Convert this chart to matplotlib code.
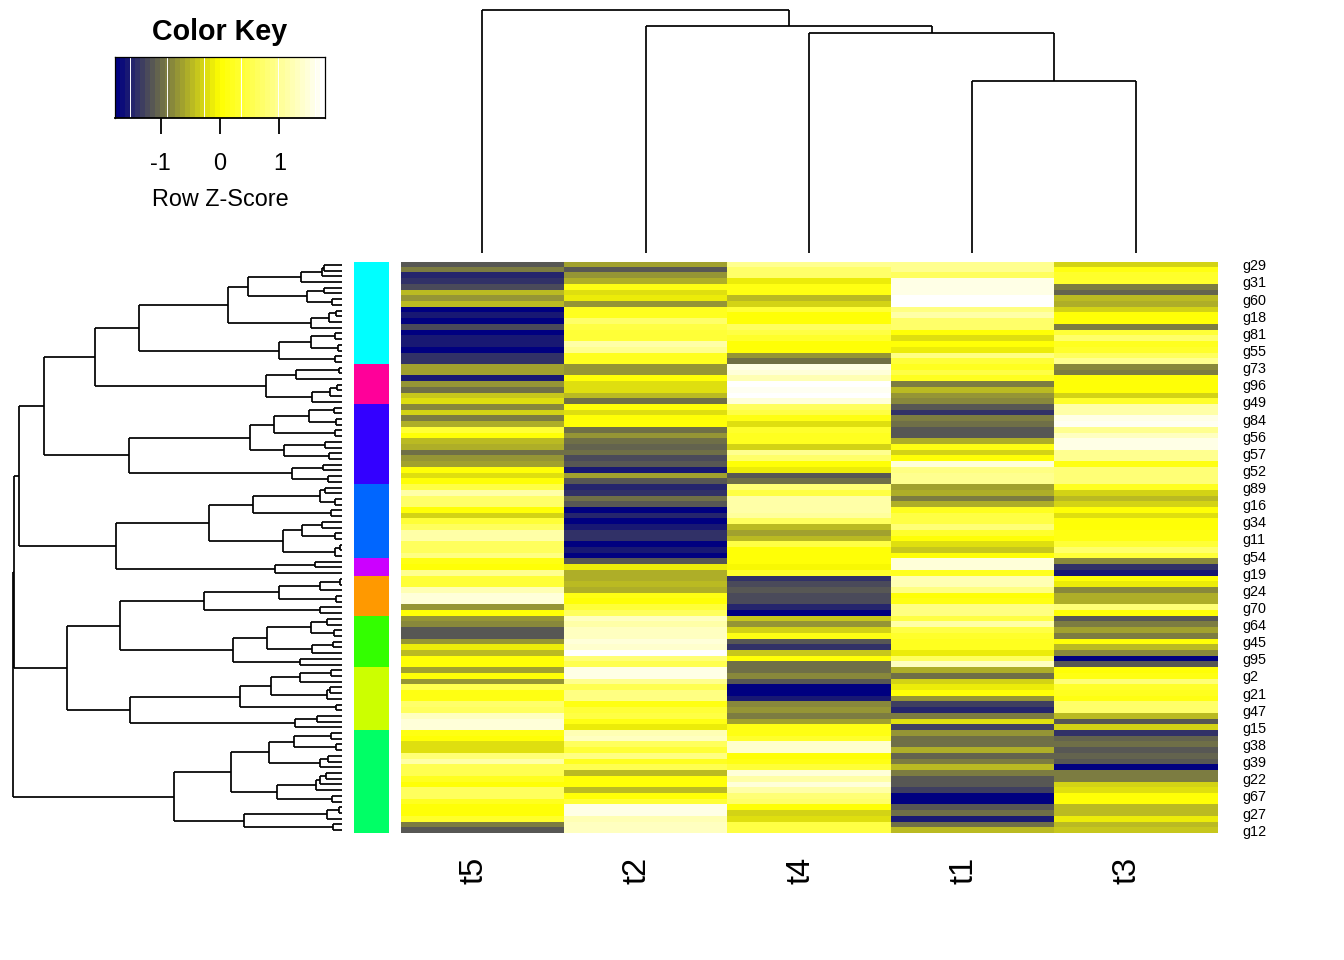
import numpy as np
import matplotlib
matplotlib.use("Agg")
import matplotlib.pyplot as plt
from matplotlib.colors import LinearSegmentedColormap, ListedColormap
from matplotlib.transforms import ScaledTranslation

plt.rcParams['font.family'] = ['Liberation Sans', 'DejaVu Sans']

columns = ["t5", "t2", "t4", "t1", "t3"]
shown_genes = ["g29","g31","g60","g18","g81","g55","g73","g96","g49","g84","g56","g57",
               "g52","g89","g16","g34","g11","g54","g19","g24","g70","g64","g45","g95",
               "g2","g21","g47","g15","g38","g39","g22","g67","g27","g12"]

t5 = [-1.1,-.85,-1.5,-1.35,-1.25,-.5,-.75,-.45,-1.7,-1.6,-1.7,-1.25,-1.77,-1.6,-1.6,-1.7,-1.4,-1.35,-.6,-.6,
      -1.6,-.75,-1.0,-.4,-.2,-.8,-.3,-.9,-.55,.4,0,-.45,-.55,-1.0,-.7,-.65,0,-.2,0,.5,
      1.1,.7,.7,0,-.3,.4,.6,1.1,1.1,.6,.6,.9,.15,.05,.95,.4,.4,1.2,1.45,1.45,
      -.7,0,-.75,-.8,-1.15,-1.15,-.7,-.15,-.5,0,0,-.6,0,-.7,.55,.15,.15,.7,.6,1.3,
      1.5,1.5,.15,0,-.2,-.2,.8,1.15,.55,.55,.2,0,.6,.6,.25,.05,.05,.3,-.85,-1.15]
t2 = [-.65,-1.15,-.7,-.55,.1,-.2,-.1,-.7,.2,.2,.7,.5,.35,.35,1.1,1.0,.2,.2,-.7,-.7,
      0,-.2,-.2,-.45,-.95,0,-.2,0,0,-.95,-.7,-1.0,-1.05,-1.0,-1.25,-1.15,-1.6,-.6,-1.1,-1.5,
      -1.35,-.95,-1.15,-1.7,-1.5,-1.77,-1.55,-1.4,-1.4,-1.7,-1.6,-1.7,-1.1,-.15,-.55,-.55,-.45,-.55,.1,0,
      .4,.6,1.3,1.1,1.3,1.3,1.5,1.4,1.77,.8,.55,1.6,1.6,.95,.55,.9,.9,.15,.35,.45,
      .1,-.1,1.2,1.3,.6,.4,.85,.2,.55,-.45,.05,0,-.45,.05,.4,1.6,1.6,1.2,1.3,1.3]
t4 = [1.0,.7,.7,-.1,.1,.1,-.5,-.3,.4,0,0,.6,.5,.3,0,0,-.7,-.95,1.6,1.5,
      1.2,1.77,1.65,1.75,1.5,.6,.5,.1,-.2,.3,.2,.2,-.3,1.0,.7,0,-.15,-1.15,-.95,.8,
      .5,1.15,1.15,1.1,1.05,.6,-.5,-.6,-.45,.5,0,0,0,-.05,.3,-1.4,-1.25,-1.1,-1.25,-1.25,
      -1.5,-1.7,-.4,-.7,-.3,.1,-1.15,-1.4,-.4,0,-.95,-.95,-.8,-1.15,-1.77,-1.7,-1.6,-.8,-.7,-.9,
      -.65,.1,.1,.3,1.4,1.4,.05,.1,.35,1.5,1.1,1.5,1.1,.8,.7,0,-.3,-.2,.5,.5]
t1 = [1.0,1.0,.6,1.55,1.55,1.6,1.77,1.77,.85,1.1,.7,.7,0,-.2,0,-.1,.9,.4,.2,.45,
      .2,-.85,-.45,-.75,-.8,-1.15,-1.4,-.85,-1.0,-1.15,-1.15,-.55,.1,-.3,0,1.5,.85,.95,.95,-.65,
      -.55,-.9,-.55,.25,.5,.5,.8,.3,0,-.2,-.4,.05,1.45,1.45,.2,1.2,1.2,.9,0,.15,
      .85,.85,.5,1.15,.5,.3,.2,.2,-.1,.65,1.3,-.55,-.95,-.3,-.1,0,-.7,-1.3,-1.5,-.9,
      -.2,-1.3,-.7,-1.0,-1.0,-.55,-1.05,-.9,-.45,-.9,-1.15,-1.15,-1.3,-1.77,-1.77,-1.15,-1.0,-1.55,-1.0,-.5]
t3 = [-.3,.15,.3,.3,-.85,-1.05,-.45,-.55,-.3,0,0,-.9,.4,.75,.2,.3,.6,.95,-.8,-.9,
      0,0,0,-.3,.3,1.15,1.15,1.6,1.65,1.0,1.3,1.55,1.55,.95,.95,.15,.8,.8,.8,.2,
      -.3,-.45,-.3,0,-.2,0,0,.1,.1,.4,.7,.4,-.8,-1.4,-1.6,0,-.15,-.8,-.55,-.55,
      .8,.05,-1.1,-.85,-.65,-.85,0,-.5,-.8,-1.77,-1.1,.05,.1,.8,.3,.2,.1,.7,.7,-.45,
      -1.1,-.3,-1.4,-1.05,-1.0,-1.15,-1.05,-1.1,-1.7,-.9,-.9,-.3,-.2,0,0,-.45,-.45,-.1,-.5,-.4]

group_sizes = [18, 7, 14, 13, 3, 7, 9, 11, 18]
group_colors = ["#00FFFF","#FF0099","#3300FF","#0066FF","#CC00FF","#FF9900","#33FF00","#CCFF00","#00FF66"]

# Row dendrogram: each node is (merge height, child, child); L is a leaf
L = None
def N(h, a=L, b=L):
    return (h, a, b)

upper = N(297.7,
    N(247.3,
        N(203.3,
            N(113.7,
                N(94.3,
                    N(41, N(20, N(17.7), L), L),
                    N(35, N(18.3), N(10))),
                N(31, N(12.7, N(5.7), L), L)),
            N(63, N(31, N(6.7), N(4.3)), N(6.7))),
        N(76,
            N(46, N(2.7), L),
            N(30, N(11.7, N(5), L), L))),
    N(213.3,
        N(91.7,
            N(67.7, N(33.3, N(8.3), N(5.7)), N(7.3)),
            N(57.7, N(17.3), N(12.7))),
        N(50, N(19.3), N(14))))
middle = N(225.7,
    N(132.7,
        N(89.3, N(21.7, N(16.7), N(7.3)), N(10.7)),
        N(59, N(40, N(20), N(6.7)), N(7.3, N(2.5), L))),
    N(67.3, N(26.7), L))
lower = N(275,
    N(222.3,
        N(137.7,
            N(62.7, N(21.7, N(2.5), L), N(6)),
            N(21.7)),
        N(109.3,
            N(75.3, N(30.7, N(15), N(8.3)), N(30, N(9), L)),
            N(42.3))),
    N(212.3,
        N(101.7,
            N(71, N(41.7, N(10.7), L), N(15, N(11.7), L)),
            N(6)),
        N(47.3, N(25), L)))
last = N(168,
    N(111,
        N(73, N(48.3, N(10.7), N(6)), N(22, N(14), L)),
        N(65, N(26, N(22.3, N(16), L), L), N(10))),
    N(98.3, N(15, N(3.3), L), N(9.3)))
row_tree = N(329, N(327.7, N(323.3, upper, middle), lower), last)

# Column dendrogram over t5, t2, t4, t1, t3
col_tree = N(243, L, N(227, L, N(220, L, N(172))))


def segments(node, cursor):
    """Return (position, height, segments) using leaf order from the tree."""
    if node is None:
        pos = cursor[0] + 0.5
        cursor[0] += 1
        return pos, 0.0, []
    h, a, b = node
    pa, ha, sa = segments(a, cursor)
    pb, hb, sb = segments(b, cursor)
    own = [((pa, ha), (pa, h)), ((pa, h), (pb, h)), ((pb, h), (pb, hb))]
    return (pa + pb) / 2, h, sa + sb + own


W, H = 1344, 960
fig = plt.figure(figsize=(W / 100, H / 100), dpi=100, facecolor="white")
def px_axes(x0, y0, x1, y1):
    return fig.add_axes([x0 / W, 1 - y1 / H, (x1 - x0) / W, (y1 - y0) / H])

n_bins = 42
zmax = 1.77
cmap = LinearSegmentedColormap.from_list("ny", ["#000080", "#FFFF00", "#FFFFFF"], N=n_bins)
data = np.array([t5, t2, t4, t1, t3]).T
n_rows = data.shape[0]

# Heatmap
ax = px_axes(401, 262, 1218, 833)
ax.imshow(data, cmap=cmap, vmin=-zmax, vmax=zmax, aspect="auto", interpolation="nearest",
          extent=(0, 5, n_rows, 0))
for s in ax.spines.values():
    s.set_visible(False)
ax.yaxis.tick_right()
ax.set_yticks(np.arange(0, n_rows, 3) + 0.5, shown_genes, fontsize=10.4)
ax.tick_params(axis="y", length=0, pad=17.5)
ax.set_xticks(np.arange(5) + 0.5, columns, rotation=90, fontsize=23.5)
ax.tick_params(axis="x", length=0, pad=17)
shift = ScaledTranslation(-9 / 100, 0, fig.dpi_scale_trans)
for lab in ax.get_xticklabels():
    lab.set_transform(lab.get_transform() + shift)

# Side colour bar
ax_side = px_axes(354, 262, 388, 833)
groups = np.repeat(np.arange(len(group_sizes)), group_sizes)[:, None]
ax_side.imshow(groups, cmap=ListedColormap(group_colors), aspect="auto", interpolation="nearest",
               vmin=-0.5, vmax=len(group_sizes) - 0.5, extent=(0, 1, n_rows, 0))
ax_side.axis("off")

# Row dendrogram
ax_r = px_axes(0, 262, 342, 833)
_, _, segs = segments(row_tree, [0])
for (p0, h0), (p1, h1) in segs:
    ax_r.plot([h0, h1], [p0, p1], color="black", lw=1.25, solid_capstyle="butt", clip_on=False)
ax_r.set_xlim(342, 0)
ax_r.set_ylim(n_rows, 0)
ax_r.axis("off")

# Column dendrogram
ax_c = px_axes(400.5, 0, 1217.5, 253)
_, _, segs = segments(col_tree, [0])
for (p0, h0), (p1, h1) in segs:
    ax_c.plot([p0, p1], [h0, h1], color="black", lw=1.25, solid_capstyle="butt", clip_on=False)
ax_c.set_xlim(0, 5)
ax_c.set_ylim(0, 253)
ax_c.axis("off")

# Colour key
ax_k = px_axes(115, 57, 325, 118)
grad = np.linspace(-zmax, zmax, n_bins)[None, :]
ax_k.imshow(grad, cmap=cmap, vmin=-zmax, vmax=zmax, aspect="auto", interpolation="nearest",
            extent=(-zmax, zmax, 0, 1))
for z in [-1.52, -0.89, -0.27, 0.355, 0.98, 1.606]:
    ax_k.axvline(z, color="white", lw=0.7)
ax_k.set_yticks([])
ax_k.set_xticks([-1, 0, 1], ["-1", "0", "1"], fontsize=16.8)
ax_k.tick_params(axis="x", length=11.5, width=1.3, pad=13)
for s in ax_k.spines.values():
    s.set_linewidth(0.9)
ax_k.spines["bottom"].set_linewidth(1.3)
ax_k.set_xlabel("Row Z-Score", fontsize=16.8, labelpad=9)
ax_k.set_title("Color Key", fontsize=20.6, fontweight="bold", pad=12.5)

fig.savefig("out.png", dpi=100)
